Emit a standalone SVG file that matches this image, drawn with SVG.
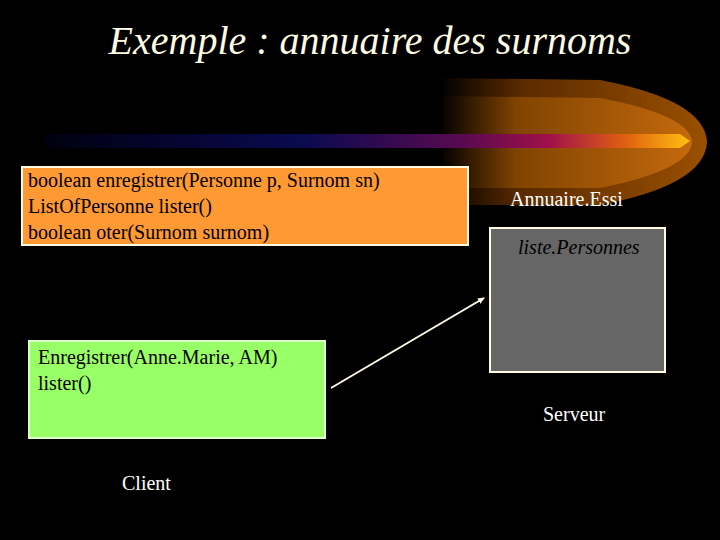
<svg xmlns="http://www.w3.org/2000/svg" width="720" height="540" viewBox="0 0 720 540">
<defs>
<linearGradient id="bar" x1="0" x2="1" y1="0" y2="0">
<stop offset="0" stop-color="#000010"/>
<stop offset="0.4" stop-color="#0a0a50"/>
<stop offset="0.65" stop-color="#5a0a50"/>
<stop offset="0.78" stop-color="#a0104a"/>
<stop offset="0.9" stop-color="#e06010"/>
<stop offset="1" stop-color="#ffc010"/>
</linearGradient>
<linearGradient id="glow" x1="0" x2="1" y1="0" y2="0">
<stop offset="0" stop-color="#000" stop-opacity="1"/>
<stop offset="0.3" stop-color="#5a2a00"/>
<stop offset="1" stop-color="#9a5000"/>
</linearGradient>
<linearGradient id="glow2" x1="0" x2="1" y1="0" y2="0">
<stop offset="0" stop-color="#000"/>
<stop offset="0.3" stop-color="#8a4a00"/>
<stop offset="1" stop-color="#d07010"/>
</linearGradient>
<marker id="ah" markerWidth="8" markerHeight="8" refX="6" refY="4" orient="auto" markerUnits="userSpaceOnUse">
<path d="M0,1 L7,4 L0,7 z" fill="#fffbe8"/>
</marker>
<style>
.t{font-family:"Liberation Serif",serif;font-size:20px;fill:#000}
.w{font-family:"Liberation Serif",serif;font-size:20px;fill:#fff}
</style>
</defs>
<rect width="720" height="540" fill="#000"/>
<path d="M440,78 L600,80 Q705,100 707,142 Q705,185 600,205 L440,205 Z" fill="url(#glow)"/>
<path d="M440,96 L600,98 Q690,115 692,142 Q690,170 600,188 L440,188 Z" fill="url(#glow2)" opacity="0.8"/>
<path d="M45,134 L680,134 L690,141 L680,148 L45,148 Z" fill="url(#bar)"/>
<text x="370" y="54" text-anchor="middle" style="font-family:'Liberation Serif',serif;font-size:40px;font-style:italic;fill:#fffbe0">Exemple : annuaire des surnoms</text>
<g id="interface">
<rect x="22" y="167" width="446" height="78" fill="#ff9933" stroke="#fffbe0" stroke-width="2"/>
<text class="t" x="28" y="187">boolean enregistrer(Personne p, Surnom sn)</text>
<text class="t" x="28" y="213">List<tspan>O</tspan>fPersonne lister()</text>
<text class="t" x="28" y="239">boolean oter(Surnom surnom)</text>
</g>
<g id="client">
<rect x="29" y="341" width="296" height="97" fill="#99ff66" stroke="#ddffcc" stroke-width="2"/>
<text class="t" x="38" y="364">Enregistrer(Anne.Marie, AM)</text>
<text class="t" x="38" y="390">lister()</text>
<text class="w" x="122" y="490">Client</text>
</g>
<g id="serveur">
<text class="w" x="510" y="206">Annuaire.Essi</text>
<rect x="490" y="228" width="175" height="144" fill="#666666" stroke="#fffbe0" stroke-width="2"/>
<text x="518" y="254" style="font-family:'Liberation Serif',serif;font-size:20px;font-style:italic;fill:#000">liste.Personnes</text>
<text class="w" x="543" y="421">Serveur</text>
</g>
<g id="connectors">
<line x1="331" y1="388" x2="484" y2="298" stroke="#fffbe8" stroke-width="2" marker-end="url(#ah)"/>
</g>
</svg>
